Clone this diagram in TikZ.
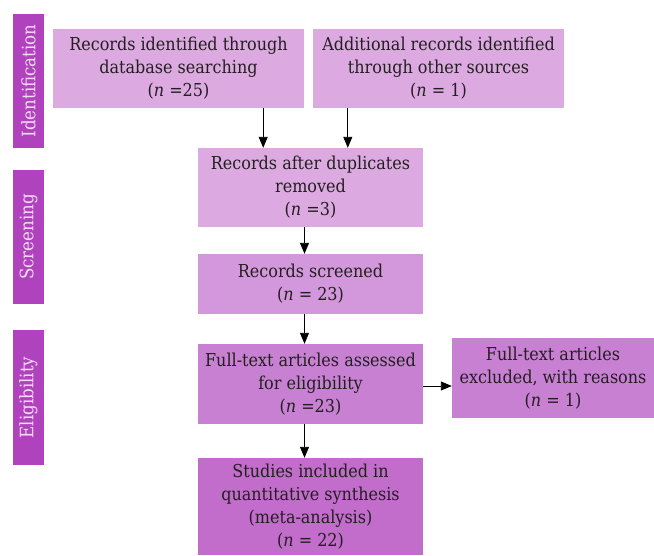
\documentclass[tikz,border=0pt]{standalone}
\usepackage{fontspec}
\setmainfont{DejaVu Serif Condensed}
\usetikzlibrary{arrows.meta,positioning,calc}
\definecolor{cA}{HTML}{DCAAE1}
\definecolor{cB}{HTML}{D397DB}
\definecolor{cC}{HTML}{C880D3}
\definecolor{cD}{HTML}{C26CCB}
\definecolor{cbar}{HTML}{B043BD}
\definecolor{ctext}{HTML}{231F20}
\definecolor{cbartext}{HTML}{F3DDF3}
\begin{document}
\begin{tikzpicture}[x=1pt,y=-1pt,
  box/.style={fill=#1, text=ctext, align=center, inner sep=0pt,
    font=\fontsize{17.8}{23}\selectfont},
  bar/.style={fill=cbar, minimum width=31pt, minimum height=#1, inner sep=0pt},
  barlabel/.style={text=cbartext, rotate=90, font=\fontsize{18.5}{20}\selectfont},
  arr/.style={line width=0.9pt, draw=black, -{Triangle[length=11pt,width=9pt]}}]
\useasboundingbox (0,0) rectangle (654,555);
% side bars
\node[bar=134pt] (s1) at (28.5,81) {};
\node[barlabel] (l1) at (s1.center) {Identification};
\node[bar=134pt] (s2) at (28.5,237) {};
\node[barlabel] (l2) at (s2.center) {Screening};
\node[bar=135pt] (s3) at (28.5,397.5) {};
\node[barlabel] (l3) at (s3.center) {Eligibility};
% boxes
\node[box=cA, minimum width=251pt, minimum height=79pt] (b1) at (178.5,68.5)
  {Records identified through\\database searching\\(\textit{n} =25)};
\node[box=cA, minimum width=251pt, minimum height=79pt] (b2) at (438.5,68.5)
  {Additional records identified\\through other sources\\(\textit{n} = 1)};
\node[box=cA, minimum width=225pt, minimum height=79pt] (b3) at (310.5,187.5)
  {Records after duplicates\\removed\\(\textit{n} =3)};
\node[box=cB, minimum width=225pt, minimum height=60pt] (b4) at (310.5,284)
  {Records screened\\(\textit{n} = 23)};
\node[box=cC, minimum width=225pt, minimum height=80pt] (b5) at (310.5,384)
  {Full-text articles assessed\\for eligibility\\(\textit{n} =23)};
\node[box=cC, minimum width=202pt, minimum height=80pt] (b6) at (553,378)
  {Full-text articles\\excluded, with reasons\\(\textit{n} = 1)};
\node[box=cD, minimum width=225pt, minimum height=97pt] (b7) at (310.5,506.5)
  {Studies included in\\quantitative synthesis\\(meta-analysis)\\(\textit{n} = 22)};
% connectors
\coordinate (a1) at ([xshift=-41pt]b1.south east);
\coordinate (a2) at ([xshift=35pt]b2.south west);
\draw[arr] (a1) -- (a1 |- b3.north);
\draw[arr] (a2) -- (a2 |- b3.north);
\draw[arr] ([xshift=-6pt]b3.south) -- ([xshift=-6pt]b4.north);
\draw[arr] ([xshift=-6pt]b4.south) -- ([xshift=-6pt]b5.north);
\draw[arr] ([xshift=-6pt]b5.south) -- ([xshift=-6pt]b7.north);
\coordinate (a3) at ([yshift=-2pt]b5.east);
\draw[arr] (a3) -- (a3 -| b6.west);
\end{tikzpicture}
\end{document}
